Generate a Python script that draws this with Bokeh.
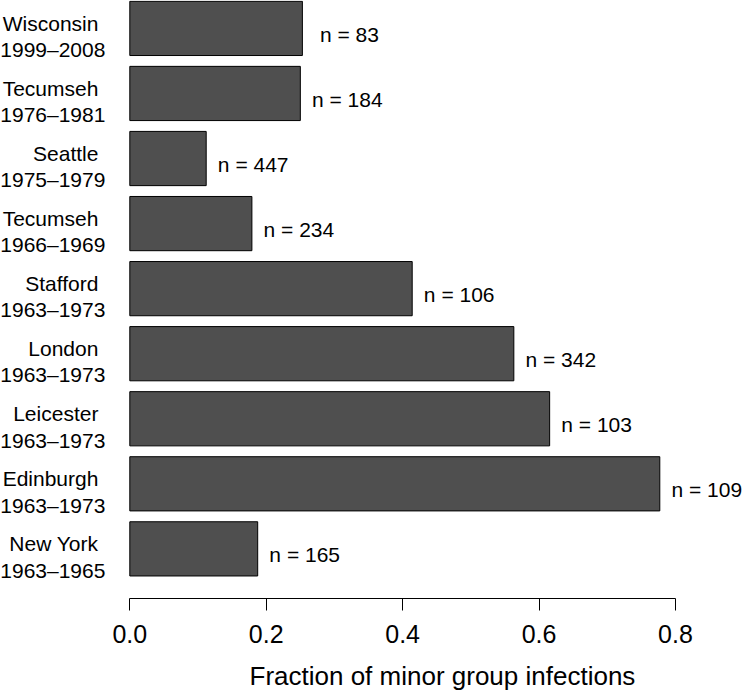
from bokeh.plotting import figure
from bokeh.models import Range1d, FixedTicker, ColumnDataSource, Title, PrintfTickFormatter
from bokeh.core.properties import value
from bokeh.embed import file_html
from bokeh.resources import INLINE

# ---- data (bottom to top) ----
places = ["New York", "Edinburgh", "Leicester", "London", "Stafford",
          "Tecumseh", "Seattle", "Tecumseh", "Wisconsin"]
periods = ["1963–1965", "1963–1973", "1963–1973", "1963–1973", "1963–1973",
           "1966–1969", "1975–1979", "1976–1981", "1999–2008"]
fractions = [0.1875, 0.777, 0.6155, 0.563, 0.414, 0.179, 0.112, 0.250, 0.253]
counts = [165, 109, 103, 342, 106, 234, 447, 184, 83]
x_ticks = [0.0, 0.2, 0.4, 0.6, 0.8]
x_tick_labels = ["0.0", "0.2", "0.4", "0.6", "0.8"]
x_title = "Fraction of minor group infections"

FONT = "Liberation Sans"
pos = list(range(len(places)))
src = ColumnDataSource(dict(
    pos=pos, frac=fractions, place=places, period=periods,
    n=[f"n = {c}" for c in counts],
))

p = figure(width=742, height=690, output_backend="svg", toolbar_location=None,
           x_range=Range1d(-0.18956, 0.89823), y_range=Range1d(-0.7629, 8.4290),
           y_axis_location=None, min_border_left=0, min_border_right=0,
           min_border_top=0, min_border_bottom=90)

p.hbar(y="pos", left=0, right="frac", height=1 / 1.2, source=src,
       fill_color="#4f4f4f", line_color="black", line_width=1)

p.text(x=0, y="pos", text="place", source=src, x_offset=-31.4, y_offset=-5.3,
       text_align="right", text_baseline="alphabetic",
       text_font=value(FONT), text_font_size="21px", text_color="black")
p.text(x=0, y="pos", text="period", source=src, x_offset=-24.4, y_offset=21.3,
       text_align="right", text_baseline="alphabetic",
       text_font=value(FONT), text_font_size="21px", text_color="black")
p.text(x="frac", y="pos", text="n", source=src, x_offset=47, y_offset=5.8,
       text_align="center", text_baseline="alphabetic",
       text_font=value(FONT), text_font_size="21px", text_color="black")

xa = p.xaxis[0]
xa.bounds = (0, 0.8)
xa.ticker = FixedTicker(ticks=x_ticks)
xa.formatter = PrintfTickFormatter(format="%.1f")
xa.major_label_overrides = {t: l for t, l in zip(x_ticks, x_tick_labels)}
xa.axis_line_color = "black"
xa.axis_line_width = 1
xa.major_tick_line_color = "black"
xa.major_tick_out = 12
xa.major_tick_in = 0
xa.minor_tick_line_color = None
xa.major_label_standoff = 14
xa.major_label_text_font = FONT
xa.major_label_text_font_size = "25px"
xa.major_label_text_color = "black"

# small blank spacer between the axis and the axis title
p.add_layout(Title(text=" ", text_font=FONT, text_font_size="10px",
                   standoff=0), "below")
p.add_layout(Title(text=x_title, align="left", offset=249, text_font=FONT,
                   text_font_size="26px", text_font_style="normal",
                   text_color="black", standoff=0, vertical_align="bottom"), "below")

p.grid.visible = False
p.outline_line_color = None
p.background_fill_color = "white"
p.border_fill_color = "white"

open("out.html", "w").write(file_html(p, INLINE))
